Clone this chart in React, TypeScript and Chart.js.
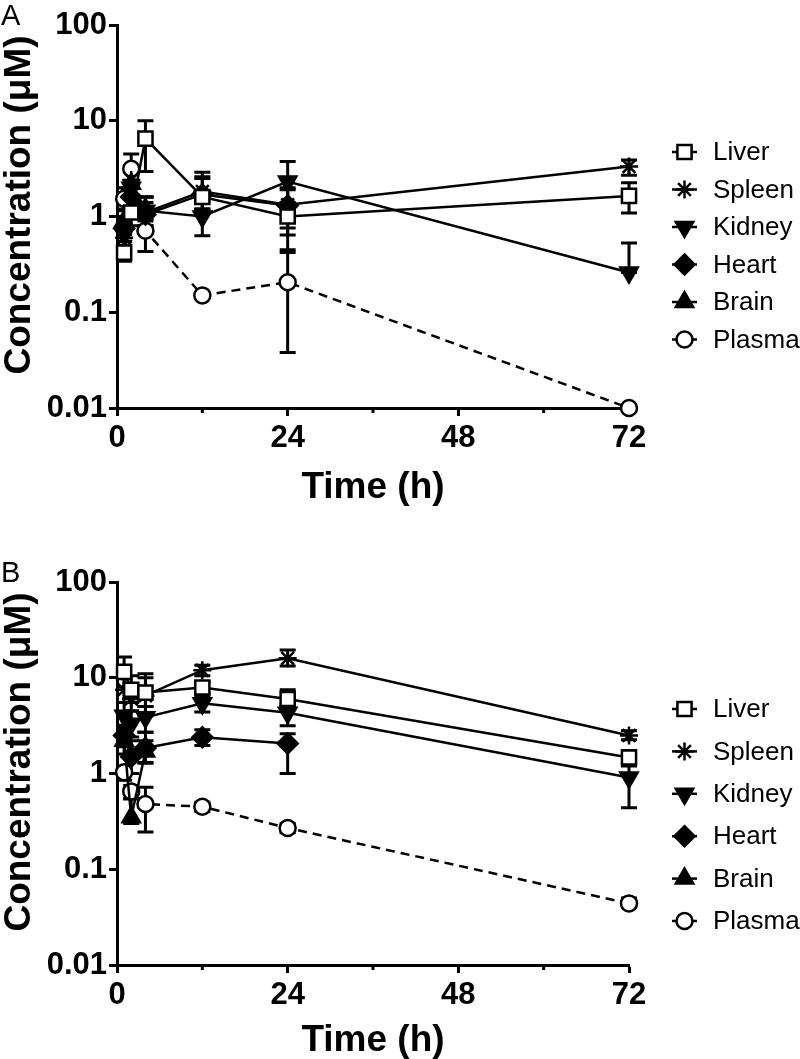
import React, { useEffect, useRef } from 'react';
import { Chart, registerables } from 'chart.js';

Chart.register(...registerables);

// ---------- data ----------
const TIMES = [1, 2, 4, 12, 24, 72];
const SERIES_NAMES = ['Liver', 'Spleen', 'Kidney', 'Heart', 'Brain', 'Plasma'];
const PANEL_LABELS = ['A', 'B'];
const X_TICKS = [0, 24, 48, 72];
const X_TICK_LABELS = ['0', '24', '48', '72'];
const X_MINOR_TICKS = [12, 36, 60];
const Y_TICKS = [0.01, 0.1, 1, 10, 100];
const Y_TICK_LABELS = ['0.01', '0.1', '1', '10', '100'];
const X_TITLE = 'Time (h)';
const Y_TITLE = 'Concentration (\u03bcM)';

// Panel A
const A_LIVER = [0.42, 1.1, 6.5, 1.6, 1.0, 1.64];
const A_LIVER_HI = [0.55, 1.5, 10.0, 2.5, 1.3, 2.25];
const A_LIVER_LO = [0.34, 0.8, 2.95, 1.15, 0.64, 1.09];
const A_SPLEEN = [0.6, 2.4, 1.1, 1.82, 1.33, 3.33];
const A_SPLEEN_HI = [0.8, 3.4, 1.6, 2.9, 2.0, 3.9];
const A_SPLEEN_LO = [0.45, 1.7, 0.75, 1.2, 0.76, 2.7];
const A_KIDNEY = [0.65, 2.0, 1.15, 1.0, 2.32, 0.26];
const A_KIDNEY_HI = [0.9, 2.9, 1.6, 1.5, 3.76, 0.53];
const A_KIDNEY_LO = [0.5, 1.4, 0.8, 0.63, 1.4, 0.26];
const A_HEART = [0.75, 1.6, 1.05, 1.7, 1.3, null];
const A_HEART_HI = [1.0, 2.3, 1.4, 2.6, 1.9, null];
const A_HEART_LO = [0.55, 1.1, 0.8, 1.2, 0.45, null];
const A_BRAIN = [0.9, 2.2, 1.2, null, null, null];
const A_BRAIN_HI = [1.2, 3.0, 1.6, null, null, null];
const A_BRAIN_LO = [0.65, 1.6, 0.9, null, null, null];
const A_PLASMA = [1.53, 3.15, 0.71, 0.15, 0.206, 0.01];
const A_PLASMA_HI = [2.0, 4.5, 0.95, 0.16, 0.42, 0.01];
const A_PLASMA_LO = [1.15, 2.3, 0.43, 0.14, 0.038, 0.01];

// Panel B
const B_LIVER = [11.5, 7.5, 7.0, 7.9, 6.0, 1.47];
const B_LIVER_HI = [16.5, 10.5, 10.0, 9.0, 7.5, 1.74];
const B_LIVER_LO = [8.0, 5.5, 5.0, 6.9, 4.9, 1.24];
const B_SPLEEN = [7.5, 6.0, 6.5, 12.0, 16.0, 2.49];
const B_SPLEEN_HI = [10.0, 8.0, 11.0, 13.5, 19.5, 2.8];
const B_SPLEEN_LO = [5.5, 4.5, 4.0, 10.5, 13.3, 2.25];
const B_KIDNEY = [4.0, 3.3, 3.86, 5.4, 4.3, 0.91];
const B_KIDNEY_HI = [5.5, 4.5, 5.0, 6.5, 5.2, 1.2];
const B_KIDNEY_LO = [3.0, 2.4, 2.7, 4.4, 3.16, 0.44];
const B_HEART = [2.5, 1.5, 1.85, 2.39, 2.06, null];
const B_HEART_HI = [3.2, 2.2, 2.7, 2.87, 2.6, null];
const B_HEART_LO = [1.9, 1.0, 1.28, 1.96, 1.0, null];
const B_BRAIN = [2.2, 0.35, 1.7, null, null, null];
const B_BRAIN_HI = [3.0, 0.54, 2.2, null, null, null];
const B_BRAIN_LO = [1.6, 0.3, 1.3, null, null, null];
const B_PLASMA = [1.03, 0.65, 0.48, 0.45, 0.27, 0.044];
const B_PLASMA_HI = [1.2, 0.75, 0.72, 0.5, 0.3, 0.05];
const B_PLASMA_LO = [0.85, 0.55, 0.245, 0.4, 0.24, 0.04];

const PANEL_A = [
  [A_LIVER, A_LIVER_HI, A_LIVER_LO],
  [A_SPLEEN, A_SPLEEN_HI, A_SPLEEN_LO],
  [A_KIDNEY, A_KIDNEY_HI, A_KIDNEY_LO],
  [A_HEART, A_HEART_HI, A_HEART_LO],
  [A_BRAIN, A_BRAIN_HI, A_BRAIN_LO],
  [A_PLASMA, A_PLASMA_HI, A_PLASMA_LO],
];
const PANEL_B = [
  [B_LIVER, B_LIVER_HI, B_LIVER_LO],
  [B_SPLEEN, B_SPLEEN_HI, B_SPLEEN_LO],
  [B_KIDNEY, B_KIDNEY_HI, B_KIDNEY_LO],
  [B_HEART, B_HEART_HI, B_HEART_LO],
  [B_BRAIN, B_BRAIN_HI, B_BRAIN_LO],
  [B_PLASMA, B_PLASMA_HI, B_PLASMA_LO],
];

// ---------- layout / styles ----------
const FONT = '"Liberation Sans", Arial, Helvetica, sans-serif';
const CANVAS_W = 800;
const PANEL_TOPS = [0, 557];
const PANEL_HEIGHTS = [545, 502];
const PLOT_TOP = 25;
const PLOT_BOTTOM = 408;
const X_TITLE_Y = [488, 484];
const LEGEND_Y0 = 152;
const LEGEND_STEP = [37.5, 42.4];

type MarkerKind = 'square' | 'star' | 'triDown' | 'diamond' | 'triUp' | 'circle';
const MARKERS: MarkerKind[] = ['square', 'star', 'triDown', 'diamond', 'triUp', 'circle'];

function styleFor(kind: MarkerKind) {
  switch (kind) {
    case 'square':
      return { pointStyle: 'rect', pointRadius: 10, rotation: 0, fill: '#fff' };
    case 'star':
      return { pointStyle: 'star', pointRadius: 9, rotation: 0, fill: '#000' };
    case 'triDown':
      return { pointStyle: 'triangle', pointRadius: 10, rotation: 180, fill: '#000' };
    case 'diamond':
      return { pointStyle: 'rectRot', pointRadius: 10, rotation: 0, fill: '#000' };
    case 'triUp':
      return { pointStyle: 'triangle', pointRadius: 10, rotation: 0, fill: '#000' };
    default:
      return { pointStyle: 'circle', pointRadius: 8, rotation: 0, fill: '#fff' };
  }
}

function drawMarker(ctx: CanvasRenderingContext2D, kind: MarkerKind, x: number, y: number) {
  const st = styleFor(kind);
  const r = st.pointRadius;
  ctx.save();
  ctx.lineWidth = 2.5;
  ctx.strokeStyle = '#000';
  ctx.fillStyle = st.fill;
  ctx.setLineDash([]);
  ctx.beginPath();
  if (kind === 'square') {
    const s = r * Math.SQRT1_2;
    ctx.rect(x - s, y - s, 2 * s, 2 * s);
    ctx.fill();
    ctx.stroke();
  } else if (kind === 'circle') {
    ctx.arc(x, y, r, 0, Math.PI * 2);
    ctx.fill();
    ctx.stroke();
  } else if (kind === 'diamond') {
    ctx.moveTo(x, y - r);
    ctx.lineTo(x + r, y);
    ctx.lineTo(x, y + r);
    ctx.lineTo(x - r, y);
    ctx.closePath();
    ctx.fill();
    ctx.stroke();
  } else if (kind === 'triUp' || kind === 'triDown') {
    const d = kind === 'triUp' ? 1 : -1;
    ctx.moveTo(x, y - d * r);
    ctx.lineTo(x + 0.866 * r, y + d * 0.5 * r);
    ctx.lineTo(x - 0.866 * r, y + d * 0.5 * r);
    ctx.closePath();
    ctx.fill();
    ctx.stroke();
  } else {
    for (let k = 0; k < 4; k++) {
      const a = (k * Math.PI) / 4;
      ctx.moveTo(x - Math.cos(a) * r, y - Math.sin(a) * r);
      ctx.lineTo(x + Math.cos(a) * r, y + Math.sin(a) * r);
    }
    ctx.stroke();
  }
  ctx.restore();
}

const errorBarPlugin = {
  id: 'errorBars',
  beforeDatasetsDraw(chart: any) {
    const ctx = chart.ctx as CanvasRenderingContext2D;
    const ys = chart.scales.y;
    const cap = 8;
    ctx.save();
    ctx.strokeStyle = '#000';
    ctx.lineWidth = 3;
    chart.data.datasets.forEach((ds: any, di: number) => {
      const meta = chart.getDatasetMeta(di);
      ds.data.forEach((pt: any, i: number) => {
        const el = meta.data[i];
        if (!el) return;
        const x = el.x;
        const yh = ys.getPixelForValue(pt.hi);
        const yl = ys.getPixelForValue(pt.lo);
        ctx.beginPath();
        ctx.moveTo(x, yh);
        ctx.lineTo(x, yl);
        ctx.moveTo(x - cap, yh);
        ctx.lineTo(x + cap, yh);
        ctx.moveTo(x - cap, yl);
        ctx.lineTo(x + cap, yl);
        ctx.stroke();
      });
    });
    ctx.restore();
  },
};

const decorPlugin = {
  id: 'decor',
  afterDraw(chart: any) {
    const ctx = chart.ctx as CanvasRenderingContext2D;
    const xs = chart.scales.x;
    const area = chart.chartArea;
    const idx: number = chart.options.plugins.decor.index;
    ctx.save();
    // minor x ticks
    ctx.strokeStyle = '#000';
    ctx.lineWidth = 3;
    X_MINOR_TICKS.forEach((v) => {
      const px = xs.getPixelForValue(v);
      ctx.beginPath();
      ctx.moveTo(px, area.bottom);
      ctx.lineTo(px, area.bottom + 5);
      ctx.stroke();
    });
    // panel label
    ctx.fillStyle = '#000';
    ctx.font = `29px ${FONT}`;
    ctx.textAlign = 'left';
    ctx.textBaseline = 'alphabetic';
    ctx.fillText(PANEL_LABELS[idx], 1, 25);
    // axis titles
    ctx.font = `bold 37px ${FONT}`;
    ctx.textAlign = 'center';
    ctx.textBaseline = 'middle';
    ctx.fillText(X_TITLE, (area.left + area.right) / 2, X_TITLE_Y[idx]);
    ctx.save();
    ctx.translate(20, 205);
    ctx.rotate(-Math.PI / 2);
    ctx.fillText(Y_TITLE, 0, 0);
    ctx.restore();
    // legend
    const x0 = 672;
    const x1 = 697;
    const xm = 684.5;
    SERIES_NAMES.forEach((name, i) => {
      const y = LEGEND_Y0 + i * LEGEND_STEP[idx];
      ctx.save();
      ctx.strokeStyle = '#000';
      ctx.lineWidth = 2.5;
      if (MARKERS[i] === 'circle') ctx.setLineDash([4, 3]);
      ctx.beginPath();
      ctx.moveTo(x0, y);
      ctx.lineTo(x1, y);
      ctx.stroke();
      ctx.restore();
      drawMarker(ctx, MARKERS[i], xm, y);
      ctx.fillStyle = '#000';
      ctx.font = `26px ${FONT}`;
      ctx.textAlign = 'left';
      ctx.textBaseline = 'middle';
      ctx.fillText(name, 713, y + 1);
    });
    ctx.restore();
  },
};

function buildDatasets(panel: (number | null)[][][]) {
  return panel.map(([vals, hi, lo], si) => {
    const st = styleFor(MARKERS[si]);
    const data: any[] = [];
    TIMES.forEach((t, i) => {
      const v = vals[i];
      if (v === null || v === undefined) return;
      data.push({ x: t, y: v, hi: hi[i], lo: lo[i] });
    });
    return {
      label: SERIES_NAMES[si],
      data,
      clip: false,
      borderColor: '#000',
      borderWidth: 2.5,
      borderDash: MARKERS[si] === 'circle' ? [9, 6] : [],
      backgroundColor: st.fill,
      pointStyle: st.pointStyle,
      pointRadius: st.pointRadius,
      pointRotation: st.rotation,
      pointBackgroundColor: st.fill,
      pointBorderColor: '#000',
      pointBorderWidth: 2.5,
      tension: 0,
      fill: false,
    };
  });
}

function Panel({ index }: { index: number }) {
  const ref = useRef<HTMLCanvasElement | null>(null);
  const h = PANEL_HEIGHTS[index];
  useEffect(() => {
    if (!ref.current) return;
    const panel = index === 0 ? PANEL_A : PANEL_B;
    const chart = new Chart(ref.current, {
      type: 'line',
      data: { datasets: buildDatasets(panel) as any },
      options: {
        animation: false,
        responsive: false,
        devicePixelRatio: 1,
        layout: { padding: { left: 0, top: PLOT_TOP, right: 171, bottom: 0 } },
        plugins: {
          legend: { display: false },
          tooltip: { enabled: false },
          decor: { index },
        } as any,
        scales: {
          x: {
            type: 'linear',
            min: 0,
            max: 72,
            afterBuildTicks: (s: any) => {
              s.ticks = X_TICKS.map((v) => ({ value: v }));
            },
            afterFit: (s: any) => {
              s.height = h - PLOT_BOTTOM;
            },
            border: { display: true, color: '#000', width: 3 },
            grid: { drawOnChartArea: false, drawTicks: true, tickLength: 8, tickWidth: 3, tickColor: '#000' },
            ticks: {
              color: '#000',
              autoSkip: false,
              maxRotation: 0,
              padding: 4,
              font: { family: FONT, size: 31, weight: 'bold' },
              callback: (v: any) => {
                const k = X_TICKS.indexOf(Number(v));
                return k >= 0 ? X_TICK_LABELS[k] : '';
              },
            },
            title: { display: false },
          },
          y: {
            type: 'logarithmic',
            min: 0.01,
            max: 100,
            afterBuildTicks: (s: any) => {
              s.ticks = Y_TICKS.map((v) => ({ value: v }));
            },
            afterFit: (s: any) => {
              s.width = 117;
            },
            border: { display: true, color: '#000', width: 3 },
            grid: { drawOnChartArea: false, drawTicks: true, tickLength: 8, tickWidth: 3, tickColor: '#000' },
            ticks: {
              color: '#000',
              autoSkip: false,
              padding: 2,
              font: { family: FONT, size: 31, weight: 'bold' },
              callback: (v: any) => {
                const k = Y_TICKS.indexOf(Number(v));
                return k >= 0 ? Y_TICK_LABELS[k] : '';
              },
            },
            title: { display: false },
          },
        } as any,
      },
      plugins: [errorBarPlugin, decorPlugin],
    });
    return () => chart.destroy();
  }, [index, h]);
  return (
    <canvas
      ref={ref}
      width={CANVAS_W}
      height={h}
      style={{ position: 'absolute', left: 0, top: PANEL_TOPS[index], width: CANVAS_W, height: h, display: 'block' }}
    />
  );
}

export default function App() {
  return (
    <div style={{ position: 'absolute', left: 0, top: 0, width: 800, height: 1059, overflow: 'hidden', background: '#fff' }}>
      <Panel index={0} />
      <Panel index={1} />
    </div>
  );
}
